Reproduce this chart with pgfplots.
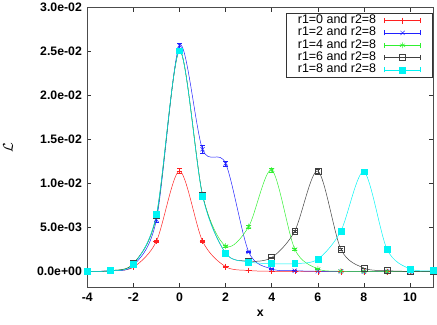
\documentclass[border=0pt]{standalone}
\usepackage{pgfplots}
\pgfplotsset{compat=1.18}
\usepackage{pgfplotstable}
\usepackage{fontspec}
\setmainfont{Liberation Sans}

\definecolor{cR}{HTML}{FF2020}
\definecolor{cB}{HTML}{2020FF}
\definecolor{cG}{HTML}{30F030}
\definecolor{cK}{HTML}{404040}
\definecolor{cC}{HTML}{00F4F4}

% x  L  err
\pgfplotstableread{
x y e
-4 0.00002 0.00001
-3 0.00008 0.00002
-2 0.0005 0.00004
-1 0.00345 0.0001
0 0.01143 0.0003
1 0.00345 0.0001
2 0.00056 0.00004
3 0.00012 0.00002
4 0.00003 0.00001
5 0.00001 0.00001
6 0 0
7 0 0
8 0 0
9 0 0
10 0 0
11 0 0
}\rzero
\pgfplotstableread{
x y e
-4 0.00002 0.00001
-3 0.0001 0.00002
-2 0.0007 0.00004
-1 0.0059 0.00025
0 0.0257 0.0003
1 0.0139 0.00045
2 0.0123 0.0003
3 0.00225 0.0001
4 0.0003 0.00003
5 0.0001 0.00002
6 0.00003 0.00001
7 0.00001 0
8 0 0
9 0 0
10 0 0
11 0 0
}\rtwo
\pgfplotstableread{
x y e
-4 0.00002 0.00001
-3 0.0001 0.00002
-2 0.0009 0.00004
-1 0.0063 0.0002
0 0.0251 0.0003
1 0.0087 0.0002
2 0.0029 0.0001
3 0.0051 0.00015
4 0.01154 0.0002
5 0.00255 0.0001
6 0.0003 0.00003
7 0.00005 0.00001
8 0.00002 0
9 0 0
10 0 0
11 0 0
}\rfour
\pgfplotstableread{
x y e
-4 0.00002 0.00001
-3 0.0001 0.00002
-2 0.0009 0.00004
-1 0.0064 0.0002
0 0.0251 0.0003
1 0.0087 0.0002
2 0.0021 0.0001
3 0.0012 0.00005
4 0.0016 0.00006
5 0.0046 0.00015
6 0.01143 0.0002
7 0.00255 0.0001
8 0.0004 0.00003
9 0.0001 0.00002
10 0.00002 0
11 0 0
}\rsix
\pgfplotstableread{
x y e
-4 0.00002 0.00001
-3 0.0001 0.00002
-2 0.0008 0.00004
-1 0.0065 0.0002
0 0.0251 0.0003
1 0.0086 0.0002
2 0.0021 0.0001
3 0.0011 0.00005
4 0.0009 0.00004
5 0.0009 0.00004
6 0.0014 0.00005
7 0.0046 0.00015
8 0.01135 0.0002
9 0.00255 0.0001
10 0.0003 0.00003
11 0.0001 0.00002
}\reight

\begin{document}
\begin{tikzpicture}
\begin{axis}[
  scale only axis,
  width=351bp, height=284bp,
  xmin=-4, xmax=11,
  ymin=-0.0018, ymax=0.03,
  axis line style={black!70, line width=0.8pt},
  tick style={black!80, line width=0.6pt},
  major tick length=4bp,
  xtick={-4,-2,0,2,4,6,8,10},
  xticklabels={-4,-2,0,2,4,6,8,10},
  ytick={0,0.005,0.01,0.015,0.02,0.025,0.03},
  yticklabels={0.0e+00,5.0e-03,1.0e-02,1.5e-02,2.0e-02,2.5e-02,3.0e-02},
  tick label style={font=\fontsize{12.5}{14}\selectfont\bfseries},
  yticklabel style={xshift=-2bp},
  xticklabel style={yshift=-2bp},
  xlabel={x},
  xlabel style={font=\fontsize{12.5}{14}\selectfont\bfseries, yshift=-2bp},
  ylabel={$\mathcal{L}$},
  ylabel style={font=\fontsize{15}{16}\selectfont, at={(axis description cs:-0.205,0.5)}},
  scaled y ticks=false,
  every axis plot/.append style={line width=0.5pt, mark size=3bp},
  error bars/y dir=both,
  error bars/y explicit,
  error bars/error mark options={rotate=90, mark size=2.5bp},
  legend cell align=right,
  legend plot pos=right,
  legend style={at={(rel axis cs:0.997,0.979)}, anchor=north east,
    draw=black!80, inner xsep=11bp, inner ysep=1bp, row sep=0.5bp,
    column sep=7bp,
    font=\fontsize{12.7}{14}\selectfont,
    nodes={inner xsep=1bp, inner ysep=0bp, text height=9bp, text depth=3bp}},
  legend image code/.code={
    \draw[#1,mark=none] (0bp,0bp) -- (37bp,0bp);
    \draw[#1,mark=none] (0bp,-2.5bp) -- (0bp,2.5bp) (37bp,-2.5bp) -- (37bp,2.5bp);
    \draw[#1,only marks] plot coordinates {(18.5bp,0bp)};
  },
]
\addplot[cR, smooth, mark=+] table[x=x, y=y, y error=e] {\rzero};
\addlegendentry{r1=0 and r2=8}
\addplot[cB, smooth, mark=x] table[x=x, y=y, y error=e] {\rtwo};
\addlegendentry{r1=2 and r2=8}
\addplot[cG, smooth, mark=asterisk] table[x=x, y=y, y error=e] {\rfour};
\addlegendentry{r1=4 and r2=8}
\addplot[cK, smooth, mark=square] table[x=x, y=y, y error=e] {\rsix};
\addlegendentry{r1=6 and r2=8}
\addplot[cC, smooth, mark=square*] table[x=x, y=y, y error=e] {\reight};
\addlegendentry{r1=8 and r2=8}
\end{axis}
\path (-82bp,-38bp) rectangle (355bp,289bp);
\end{tikzpicture}
\end{document}
